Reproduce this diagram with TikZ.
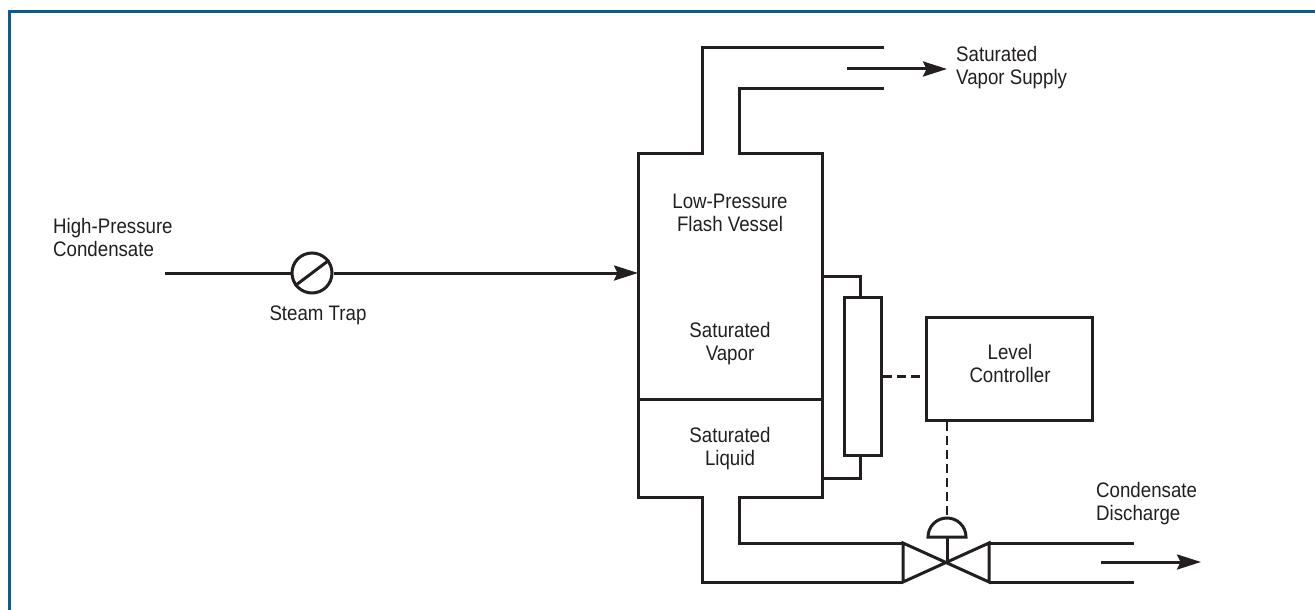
\documentclass[tikz,border=0pt]{standalone}
\usepackage{fontspec}
\setmainfont{Liberation Sans}[FakeStretch=0.89]
\usetikzlibrary{arrows.meta}
\definecolor{frameblue}{RGB}{12,90,150}
\definecolor{ink}{RGB}{35,31,32}
\newcommand{\twolines}[3]{\begin{tabular}[t]{@{}#1@{}}#2\\#3\end{tabular}}
\begin{document}
\begin{tikzpicture}[x=1pt,y=-1pt,
  pipe/.style={line width=3pt, draw=ink, line join=miter},
  sig/.style={line width=2.6pt, draw=ink, dash pattern=on 9pt off 5pt},
  tip/.style={-{Stealth[length=24pt,width=15pt,inset=3.5pt]}},
  lbl/.style={inner sep=0pt, text=ink, font=\fontsize{21}{23}\selectfont},
  box/.style={pipe, inner sep=0pt, anchor=north west}]
\useasboundingbox (0,0) rectangle (1315,610);
% frame
\draw[frameblue, line width=3pt] (9,612) -- (9,11.5) -- (1317,11.5);

% vessel
\draw[pipe] (884,48) -- (702,48) -- (702,153) -- (638,153) -- (638,497) -- (702,497) -- (702,582) -- (903,582);
\draw[pipe] (884,89) -- (739,89) -- (739,153) -- (822,153) -- (822,497) -- (739,497) -- (739,543) -- (903,543);
\draw[pipe] (638,399) -- (822,399);
\coordinate (inlet) at (638,273);

% steam trap and inlet
\coordinate (hpstart) at (165,273);
\node[pipe, circle, minimum size=40pt, inner sep=0pt] (trap) at (312,273) {};
\draw[pipe] (trap.217) -- (trap.37);
\draw[pipe] (hpstart) -- (trap.west);
\draw[pipe, tip] (trap.east) -- (inlet);

% vapor outlet arrow
\coordinate (vs1) at (847,69);
\coordinate (vs2) at (947,69);
\draw[pipe, tip] (vs1) -- (vs2);

% level gauge
\node[box, minimum width=37pt, minimum height=158pt] (gauge) at (843,296) {};
\draw[pipe] (822,276) -- (860,276) -- (gauge.north -| 860,0);
\draw[pipe] (gauge.south -| 860,0) -- (860,478) -- (822,478);

% level controller
\node[box, minimum width=166pt, minimum height=103pt] (lc) at (925,316) {};
\draw[sig] (gauge.east) -- (gauge.east -| lc.west);

% control valve
\coordinate (vc) at (947,562);
\draw[pipe] (903,543) -- (989,582) -- (989,543) -- (903,582) -- cycle;
\draw[pipe] (989,543) -- (1134,543);
\draw[pipe] (989,582) -- (1134,582);
\draw[pipe] (vc) -- (947,537);
\draw[pipe] (928,537) arc[start angle=180, end angle=360, radius=19] -- cycle;
\coordinate (dome) at (947,518);
\draw[sig] (lc.south -| dome) -- (dome);

% outlet arrow
\coordinate (cd1) at (1101,562);
\coordinate (cd2) at (1201,562);
\draw[pipe, tip] (cd1) -- (cd2);

% labels
\node[lbl, anchor=base west] (thp) at (53,233) {\twolines{l}{High-Pressure}{Condensate}};
\node[lbl, anchor=base] (tst) at (318,320) {Steam Trap};
\node[lbl, anchor=base] (tlp) at (730,208) {\twolines{c}{Low-Pressure}{Flash Vessel}};
\node[lbl, anchor=base] (tsv) at (730,337) {\twolines{c}{Saturated}{Vapor}};
\node[lbl, anchor=base] (tsl) at (730,442) {\twolines{c}{Saturated}{Liquid}};
\node[lbl, anchor=base] (tlc) at (1010,359) {\twolines{c}{Level}{Controller}};
\node[lbl, anchor=base west] (tvs) at (956,62) {\twolines{l}{Saturated}{Vapor Supply}};
\node[lbl, anchor=base west] (tcd) at (1096,497) {\twolines{l}{Condensate}{Discharge}};
\end{tikzpicture}
\end{document}
